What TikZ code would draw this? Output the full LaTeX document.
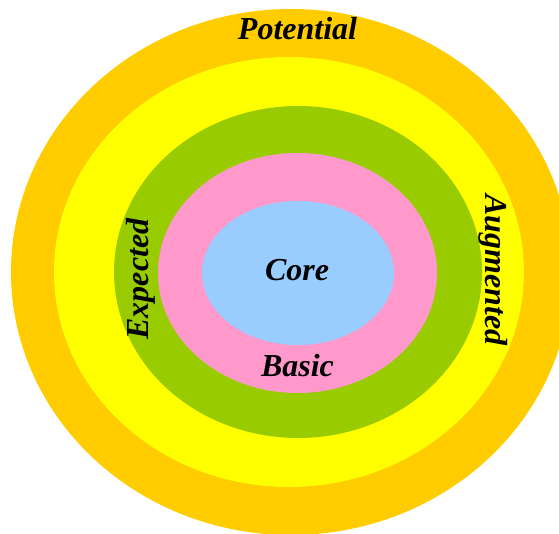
\documentclass[tikz,border=0pt]{standalone}
\usepackage{fontspec}
\setmainfont{Liberation Serif}
\definecolor{ringorange}{HTML}{FFCC00}
\definecolor{ringyellow}{HTML}{FFFF00}
\definecolor{ringgreen}{HTML}{99CC00}
\definecolor{ringpink}{HTML}{FF99CC}
\definecolor{ringblue}{HTML}{99CCFF}
\begin{document}
\begin{tikzpicture}[x=1pt,y=-1pt,
  lbl/.style={font=\fontsize{32}{37}\selectfont\bfseries\itshape, inner sep=0pt}]
\useasboundingbox (0,0) rectangle (559,533);
\begin{scope}
  \clip (0,0) rectangle (559,533);
  \fill[ringorange] (291,272) ellipse [x radius=280, y radius=263];
  \fill[ringyellow] (289,272) ellipse [x radius=235, y radius=215];
  \fill[ringgreen]  (298,272) ellipse [x radius=184, y radius=166];
  \fill[ringpink]   (297.5,273) ellipse [x radius=139.5, y radius=120];
  \fill[ringblue]   (298,273) ellipse [x radius=96, y radius=72];
\end{scope}
\node[lbl, anchor=base] (potential) at (297.5,39) {Potential};
\node[lbl, anchor=base] (core) at (297,280) {Core};
\node[lbl, anchor=base] (basic) at (297.5,376) {Basic};
\node[lbl, rotate=90, anchor=base] (expected) at (148,279) {Expected};
\node[lbl, rotate=-90, anchor=base] (augmented) at (485,270) {Augmented};
\end{tikzpicture}
\end{document}
